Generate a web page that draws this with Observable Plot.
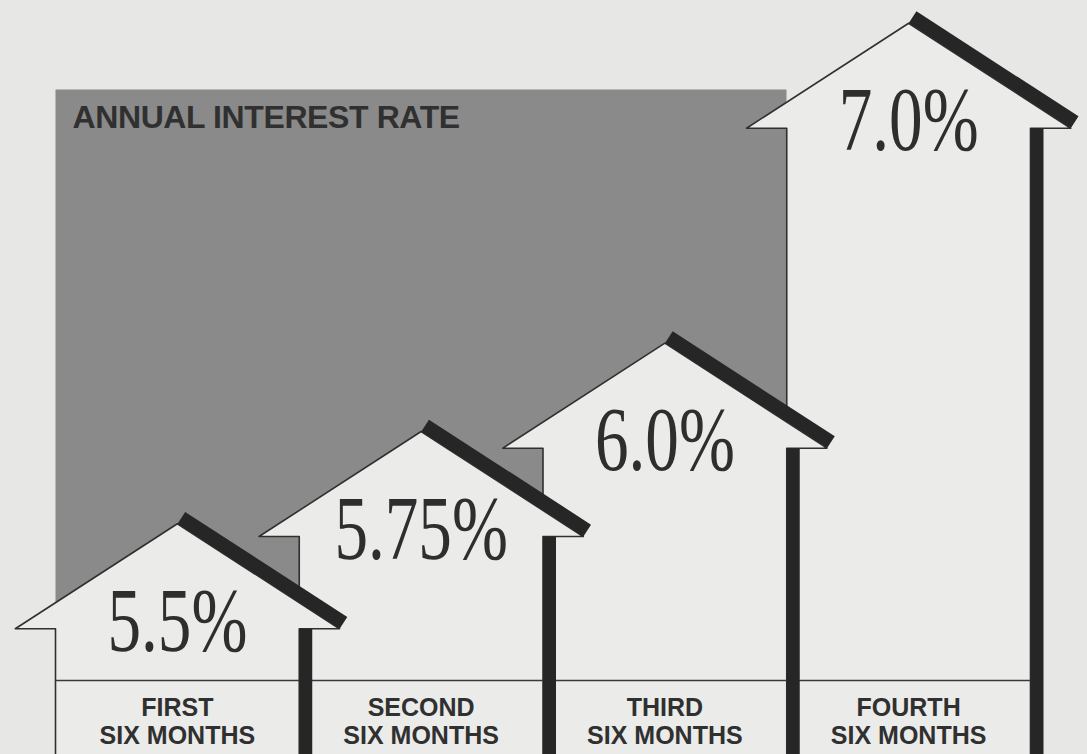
<!DOCTYPE html>
<html>
<head>
<meta charset="utf-8">
<script src="https://cdn.jsdelivr.net/npm/d3@7"></script>
<script src="https://cdn.jsdelivr.net/npm/@observablehq/plot@0.6"></script>
<style>
  html, body { margin: 0; padding: 0; background: #e7e7e5; }
  #chart svg { display: block; }
</style>
</head>
<body>
<div id="chart"></div>
<script>
// ---- data ----
const periods = ["FIRST", "SECOND", "THIRD", "FOURTH"];
const periodSuffix = "SIX MONTHS";
const rates = [5.5, 5.75, 6.0, 7.0];
const rateLabels = ["5.5%", "5.75%", "6.0%", "7.0%"];
const title = "ANNUAL INTEREST RATE";
const yDomain = [5.1, 6.78];   // span of the shaded panel (log scale)

// ---- layout ----
const W = 1087, H = 754;
const margin = {top: 89, right: 301, bottom: 74, left: 55};
const xRange = [55, 1030];
const roofPx = 105;      // height of each arrow head
const overhang = 0.165;  // wing overhang, in column widths
const basePx = 80;       // shafts run below the baseline off the page

const B = (H - margin.bottom - margin.top) / Math.log(yDomain[1] / yDomain[0]);
const roofRatio = Math.exp(-roofPx / B);
const baseValue = yDomain[0] * Math.exp(-basePx / B);

const arrows = [];
for (let i = rates.length - 1; i >= 0; i--) {
  const v = rates[i], s = v * roofRatio;
  arrows.push(
    {k: i, x: i, y: baseValue},
    {k: i, x: i, y: s},
    {k: i, x: i - overhang, y: s},
    {k: i, x: i + 0.5, y: v},
    {k: i, x: i + 1 + overhang, y: s},
    {k: i, x: i + 1, y: s},
    {k: i, x: i + 1, y: baseValue}
  );
}
const roofs = rates.flatMap((v, i) => [
  {k: i, x: i + 0.5, y: v},
  {k: i, x: i + 1 + overhang, y: v * roofRatio}
]);
const bars = rates.flatMap((v, i) => [
  {k: i, x: i + 1, y: v * roofRatio},
  {k: i, x: i + 1, y: baseValue}
]);
const valueLabels = rates.map((v, i) => ({x: i + 0.5, y: v * roofRatio, t: rateLabels[i]}));
const catLabels = periods.map((p, i) => ({x: i + 0.5, t: p + "\n" + periodSuffix}));

const ink = "#262626";

const chart = Plot.plot({
  width: W,
  height: H,
  marginTop: margin.top,
  marginRight: margin.right,
  marginBottom: margin.bottom,
  marginLeft: margin.left,
  x: {type: "linear", domain: [0, rates.length], range: xRange, axis: null},
  y: {type: "log", domain: yDomain, axis: null},
  style: {background: "#e7e7e5", overflow: "visible"},
  marks: [
    Plot.frame({fill: "#8a8a8a", stroke: "none"}),
    Plot.text([title], {
      frameAnchor: "top-left", dx: 17, dy: 16, lineAnchor: "top", textAnchor: "start",
      fontSize: 32, fontWeight: "bold", fill: "#303030",
      fontFamily: "Liberation Sans, Arial, sans-serif"
    }),
    Plot.line(arrows, {
      x: "x", y: "y", z: "k", fill: "#ebebea", stroke: "#303030", strokeWidth: 1.6,
      curve: "linear"
    }),
    Plot.ruleY([yDomain[0]], {x1: 0, x2: rates.length, stroke: "#3a3a3a", strokeWidth: 1.6}),
    Plot.line(roofs, {
      x: "x", y: "y", z: "k", stroke: ink, strokeWidth: 14, dx: 4, dy: -6,
      strokeLinecap: "butt"
    }),
    Plot.line(bars, {
      x: "x", y: "y", z: "k", stroke: ink, strokeWidth: 13, dx: 6.5,
      strokeLinecap: "butt"
    }),
    Plot.text(valueLabels, {
      x: "x", y: "y", text: "t", dy: 22, lineAnchor: "bottom", textAnchor: "middle",
      fontSize: 92, fontFamily: "Liberation Serif, Times New Roman, serif",
      fill: "#2e2e2e"
    }),
    Plot.text(catLabels, {
      x: "x", y: yDomain[0], text: "t", dy: 16, lineAnchor: "top", lineHeight: 1.1,
      textAnchor: "middle", fontSize: 25, fontWeight: "bold",
      fontFamily: "Liberation Sans, Arial, sans-serif", fill: "#303030"
    })
  ]
});

document.getElementById("chart").appendChild(chart);

// condense the serif rate figures like the original typeface
chart.querySelectorAll("text").forEach(el => {
  const s = el.textContent;
  if (rateLabels.includes(s)) {
    const len = el.getComputedTextLength();
    el.setAttribute("textLength", (len * 0.73).toFixed(1));
    el.setAttribute("lengthAdjust", "spacingAndGlyphs");
  } else if (s === title) {
    el.style.letterSpacing = "-0.4px";
  }
});
</script>
</body>
</html>
